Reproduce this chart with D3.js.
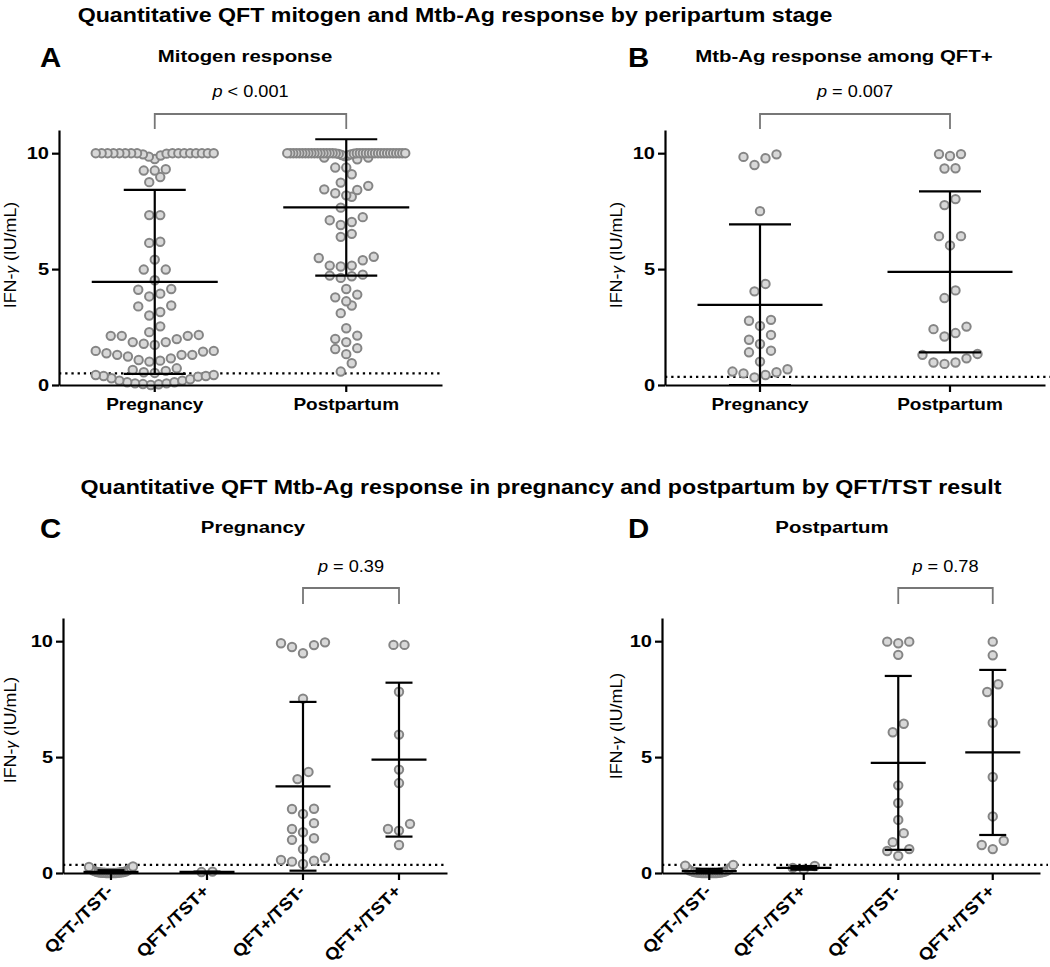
<!DOCTYPE html>
<html>
<head>
<meta charset="utf-8">
<script src="https://cdn.jsdelivr.net/npm/d3@7"></script>
<style>
  html, body { margin: 0; padding: 0; background: #fff; }
  svg { display: block; }
</style>
</head>
<body>
<svg id="chart" width="1050" height="967"></svg>
<script>
// ---------------- DATA ----------------
const catsAB = ["Pregnancy", "Postpartum"];
const catsCD = ["QFT-/TST-", "QFT-/TST+", "QFT+/TST-", "QFT+/TST+"];
const yTicks = [0, 5, 10];

// Panel A – mitogen response (IU/mL)
const mitoPreg = [10,10,10,10,10,10,10,10,10,10,10,10,10,10,10,10,9.98,9.95,9.9,9.85,9.75,
  9.31,9.25,9.25,8.97,8.75,7.33,7.33,6.18,6.13,5.41,4.98,4.98,4.52,4.14,4.11,3.94,3.82,
  3.43,3.39,3.15,3.0,2.53,2.28,2.16,2.12,2.12,2.12,1.98,1.85,1.85,1.78,1.73,
  1.47,1.47,1.44,1.37,1.30,1.30,1.30,1.23,1.15,1.08,1.05,1.01,
  0.72,0.65,0.61,0.55,0.52,
  0.43,0.43,0.39,0.39,0.36,0.29,0.25,0.19,0.19,0.12,0.12,0.07,0.07,0.04,0.03,0.0];
const mitoPost = [9.74,9.81,9.81,9.87,9.9,9.92,9.95,9.97,9.98,9.99,
  10,10,10,10,10,10,10,10,10,10,10,10,10,10,10,10,10,10,10,10,10,10,10,10,10,10,10,10,10,10,10,10,10,
  9.38,9.38,9.09,8.73,8.59,8.44,8.41,8.27,8.18,8.12,7.65,7.24,7.11,7.03,6.90,6.52,6.39,
  5.53,5.48,5.38,5.15,5.15,5.11,4.76,4.72,4.69,4.62,4.14,3.90,3.78,3.61,3.43,3.10,
  2.45,2.13,1.99,1.85,1.59,1.55,1.33,0.94,0.58];
const mitoMeans = [4.45, 7.66];
const mitoSDs = [3.97, 2.94];

// Panel B – Mtb-Ag response among QFT+
const agPreg = [9.95,9.84,9.78,9.49,7.50,4.36,4.04,2.81,2.77,2.55,2.16,1.95,1.77,1.48,1.41,1.01,
  0.68,0.58,0.55,0.50,0.43,0.33];
const agPost = [9.96,9.96,9.88,9.35,9.34,8.02,7.76,6.42,6.42,6.02,4.08,3.75,2.52,2.41,2.24,2.09,
  1.34,1.30,1.15,0.97,0.97,0.91];
const agMeans = [3.46, 4.88];
const agSDs = [3.47, 3.47];

// Panel C – pregnancy by QFT/TST
const pregNegNeg = [0.28,0.26,0.22,0.18,0.15,0.12,0.1,0.08,0.06,0.05,0.04,0.03,0.03,0.02,0.02,
  0.01,0.01,0.01,0,0,0,0,0,0];
const pregNegPos = [0.04, 0.06];
const pregPosNeg = [9.95,9.91,9.83,9.75,9.48,7.52,4.36,4.05,2.77,2.76,2.55,2.15,1.90,1.76,1.50,1.43,
  1.03,0.66,0.56,0.53,0.49,0.39];
const pregPosPos = [9.84,9.84,7.82,5.97,4.46,3.88,2.12,1.90,1.83,1.21];
const pregMeans = [0.05, 0.05, 3.74, 4.89];
const pregSDs = [0.07, 0.01, 3.64, 3.32];

// Panel D – postpartum by QFT/TST
const postNegNeg = [0.35,0.32,0.25,0.2,0.16,0.12,0.1,0.08,0.06,0.05,0.04,0.03,0.02,0.02,0.01,0.01,
  0,0,0,0,0,0,0,0];
const postNegPos = [0.30, 0.22, 0.14];
const postPosNeg = [9.98,9.98,9.91,9.41,6.44,6.07,3.78,3.02,2.29,1.72,1.33,1.03,0.95,0.74];
const postPosPos = [9.98,9.39,8.14,7.81,6.48,4.14,2.44,1.39,1.21,1.03];
const postMeans = [0.08, 0.22, 4.75, 5.20];
const postSDs = [0.10, 0.08, 3.75, 3.56];

const thresholds = {A: 0.5, B: 0.35, C: 0.35, D: 0.35};
const pLabels = {A: "< 0.001", B: "= 0.007", C: "= 0.39", D: "= 0.78"};
const mainTitles = ["Quantitative QFT mitogen and Mtb-Ag response by peripartum stage",
  "Quantitative QFT Mtb-Ag response in pregnancy and postpartum by QFT/TST result"];
const panelTitles = {A: "Mitogen response", B: "Mtb-Ag response among QFT+", C: "Pregnancy", D: "Postpartum"};

// ---------------- DRAWING ----------------
const FONT = "'Liberation Sans', Arial, Helvetica, sans-serif";
const svg = d3.select("#chart");
svg.append("rect").attr("width", 1050).attr("height", 967).attr("fill", "#fff");

function stxt(sel, x, y, str, o) {
  o = Object.assign({size: 16, weight: "normal", anchor: "middle", sx: 1.1, rotate: 0, style: "normal"}, o || {});
  return sel.append("text")
    .attr("transform", `translate(${x},${y}) rotate(${o.rotate}) scale(${o.sx},1)`)
    .attr("text-anchor", o.anchor)
    .style("font-family", FONT)
    .style("font-size", o.size + "px")
    .style("font-weight", o.weight)
    .style("font-style", o.style)
    .attr("fill", "#000")
    .text(str);
}

// GraphPad-like scatter: group sorted values into rows, spread each row around the centre
function layoutRows(values, rowH, spacing, maxSpan) {
  const pts = values.map(v => ({v})).sort((a, b) => a.v - b.v);
  const rows = [];
  let cur = null;
  for (const p of pts) {
    if (!cur || p.v - cur.start >= rowH) { cur = {start: p.v, pts: []}; rows.push(cur); }
    cur.pts.push(p);
  }
  rows.forEach(r => {
    const n = r.pts.length;
    const sp = n > 1 ? Math.min(spacing, maxSpan / (n - 1)) : 0;
    const offs = d3.range(n).map(i => (i - (n - 1) / 2) * sp)
      .sort((a, b) => Math.abs(a) - Math.abs(b) || a - b);
    r.pts.forEach((p, i) => p.dx = offs[i]);
  });
  return pts;
}

// titles
stxt(svg, 455, 22, mainTitles[0], {size: 20, weight: "bold", sx: 1.16});
stxt(svg, 541, 494, mainTitles[1], {size: 20, weight: "bold", sx: 1.16});

const yTop = d3.scaleLinear().domain([0, 11]).range([385, 130]);
const yBot = d3.scaleLinear().domain([0, 11]).range([873, 618]);

const panels = [
  {key: "A", x0: 59, x1: 442, y: yTop, cats: catsAB, vals: [mitoPreg, mitoPost], means: mitoMeans, sds: mitoSDs,
   dotEnd: 442, br: [0, 1], bTop: 114, bBot: 129, pY: 97, lx: 40, ly: 67, tx: 245, ty: 62,
   meanW: 126, capW: 62, maxSpan: 118, ylx: 16, yly: 255, rot: false},
  {key: "B", x0: 665, x1: 1045, y: yTop, cats: catsAB, vals: [agPreg, agPost], means: agMeans, sds: agSDs,
   dotEnd: 1050, br: [0, 1], bTop: 114, bBot: 129, pY: 97, lx: 628, ly: 67, tx: 844, ty: 62,
   meanW: 125, capW: 62, maxSpan: 118, ylx: 622, yly: 255, rot: false},
  {key: "C", x0: 63, x1: 447, y: yBot, cats: catsCD, vals: [pregNegNeg, pregNegPos, pregPosNeg, pregPosPos],
   means: pregMeans, sds: pregSDs,
   dotEnd: 447, br: [2, 3], bTop: 588, bBot: 604, pY: 572, lx: 40, ly: 538, tx: 253, ty: 533,
   meanW: 55, capW: 27, maxSpan: 44, ylx: 16, yly: 730, rot: true},
  {key: "D", x0: 662, x1: 1040, y: yBot, cats: catsCD, vals: [postNegNeg, postNegPos, postPosNeg, postPosPos],
   means: postMeans, sds: postSDs,
   dotEnd: 1048, br: [2, 3], bTop: 588, bBot: 604, pY: 572, lx: 628, ly: 538, tx: 832, ty: 533,
   meanW: 55, capW: 27, maxSpan: 48, ylx: 622, yly: 726, rot: true}
];

const LW = 2.2;

panels.forEach(P => {
  const g = svg.append("g");
  const x = d3.scaleBand().domain(P.cats).range([P.x0, P.x1]).padding(0);
  const cx = c => x(c) + x.bandwidth() / 2;
  const y = P.y;
  const pxPerUnit = y(0) - y(1);
  const rowH = 11 / pxPerUnit;

  // panel letter & title
  stxt(g, P.lx, P.ly, P.key, {size: 28, weight: "bold", anchor: "start", sx: 1.05});
  stxt(g, P.tx, P.ty, panelTitles[P.key], {size: 17, weight: "bold", sx: 1.2});

  // threshold dotted line
  g.append("line")
    .attr("x1", P.x0).attr("x2", P.dotEnd)
    .attr("y1", y(thresholds[P.key])).attr("y2", y(thresholds[P.key]))
    .attr("stroke", "#000").attr("stroke-width", 2.3)
    .attr("stroke-dasharray", "2.3,3.9");

  // points
  P.cats.forEach((c, i) => {
    const pts = layoutRows(P.vals[i], rowH, 11, P.maxSpan);
    g.append("g").selectAll("circle").data(pts).join("circle")
      .attr("cx", d => cx(c) + d.dx)
      .attr("cy", d => y(d.v))
      .attr("r", 4.2)
      .attr("fill", "#d8d8d8")
      .attr("stroke", "#858585")
      .attr("stroke-width", 2);
  });

  // mean ± SD bars
  P.cats.forEach((c, i) => {
    const m = P.means[i], s = P.sds[i];
    const hi = y(m + s), lo = y(Math.max(0, m - s)), mid = cx(c);
    const eb = g.append("g").attr("stroke", "#000").attr("stroke-width", LW);
    eb.append("line").attr("x1", mid).attr("x2", mid).attr("y1", hi).attr("y2", lo);
    eb.append("line").attr("x1", mid - P.capW / 2).attr("x2", mid + P.capW / 2).attr("y1", hi).attr("y2", hi);
    eb.append("line").attr("x1", mid - P.capW / 2).attr("x2", mid + P.capW / 2).attr("y1", lo).attr("y2", lo);
    eb.append("line").attr("x1", mid - P.meanW / 2).attr("x2", mid + P.meanW / 2).attr("y1", y(m)).attr("y2", y(m));
  });

  // y axis
  const ya = g.append("g").attr("transform", `translate(${P.x0},0)`)
    .call(d3.axisLeft(y).tickValues(yTicks).tickSize(7).tickSizeOuter(0).tickPadding(3).tickFormat(d3.format("d")));
  ya.select(".domain").attr("stroke-width", LW).attr("stroke", "#000");
  ya.selectAll(".tick line").attr("stroke-width", LW).attr("stroke", "#000");
  ya.selectAll(".tick text")
    .attr("x", -10 / 1.25).attr("transform", "scale(1.25,1)")
    .style("font-family", FONT).style("font-size", "16px").style("font-weight", "bold").attr("fill", "#000");

  // x axis
  const xa = g.append("g").attr("transform", `translate(0,${y(0)})`)
    .call(d3.axisBottom(x).tickSize(7).tickSizeOuter(0).tickFormat(""));
  xa.select(".domain").attr("stroke-width", LW).attr("stroke", "#000");
  xa.selectAll(".tick line").attr("stroke-width", LW).attr("stroke", "#000");

  // category labels
  P.cats.forEach(c => {
    if (!P.rot) {
      stxt(g, cx(c), y(0) + 25, c, {size: 17, weight: "bold", sx: 1.12});
    } else {
      stxt(g, cx(c) + 3, y(0) + 19, c, {size: 17, weight: "bold", sx: 1.1, rotate: -45, anchor: "end"});
    }
  });

  // y axis title
  const yl = g.append("text")
    .attr("transform", `translate(${P.ylx},${P.yly}) rotate(-90) scale(1.08,1)`)
    .attr("text-anchor", "middle")
    .style("font-family", FONT).style("font-size", "16.5px").attr("fill", "#000");
  yl.append("tspan").text("IFN-");
  yl.append("tspan").text("γ").style("font-style", "italic").style("font-size", "14px");
  yl.append("tspan").text(" (IU/mL)");

  // significance bracket
  const bx1 = cx(P.cats[P.br[0]]), bx2 = cx(P.cats[P.br[1]]);
  g.append("path")
    .attr("d", `M${bx1},${P.bBot}V${P.bTop}H${bx2}V${P.bBot}`)
    .attr("fill", "none").attr("stroke", "#777").attr("stroke-width", 1.8);
  const pt = g.append("text")
    .attr("transform", `translate(${(bx1 + bx2) / 2},${P.pY}) scale(1.1,1)`)
    .attr("text-anchor", "middle")
    .style("font-family", FONT).style("font-size", "16.5px").attr("fill", "#000");
  pt.append("tspan").text("p").style("font-style", "italic");
  pt.append("tspan").text(" " + pLabels[P.key]);
});
</script>
</body>
</html>
